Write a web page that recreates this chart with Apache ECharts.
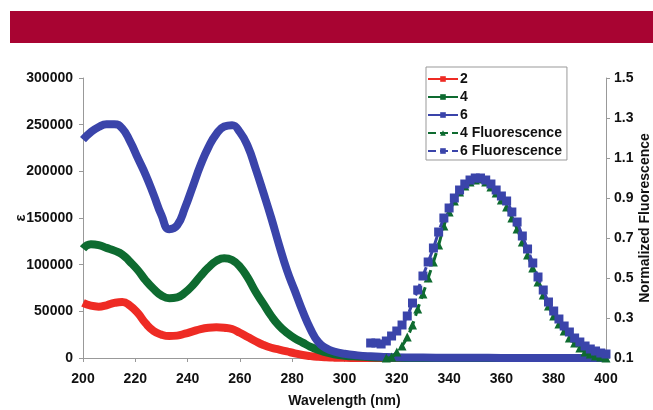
<!DOCTYPE html>
<html>
<head>
<meta charset="utf-8">
<script src="https://cdn.jsdelivr.net/npm/echarts@6/dist/echarts.min.js"></script>
<style>html,body{margin:0;padding:0;background:#fff;}#c{width:653px;height:410px;}</style>
</head>
<body>
<div id="c"></div>
<script>
// Absorbance (epsilon) data
const absWl = [200,203,206,209,212,215,218,221,224,227,230,233,236,239,242,245,248,251,254,257,260,263,266,269,272,275,278,281,284,287,290,293,296,300,305,310,315,320,330,340,350,360,380,400];
const eps2 = [59000,56000,55000,56500,59000,60000,56000,48000,37000,29000,25000,23500,24000,26000,28500,31000,32500,33000,32500,31000,27000,22500,18000,14000,11000,9000,7000,5000,3200,2000,1200,700,400,200,100,50,0,0,0,0,0,0,null,null];
const eps4 = [117000,122000,121000,118000,115000,111000,103000,94000,83000,74000,67000,64000,65000,70000,78000,88000,97000,104000,107000,105000,98000,86000,71000,58000,45000,34500,27000,21000,16500,12000,8500,6000,4000,2500,1500,800,400,200,0,0,0,0,0,0];
const eps6 = [234000,242000,247500,250500,250500,246000,232000,214000,196000,175000,153000,138000,142000,161000,184000,207000,226000,240000,248000,249500,242000,227000,203000,177000,150000,121000,94000,72000,50000,31000,17000,10500,7000,4500,2800,1800,1200,800,500,300,200,100,50,0];

// Normalized fluorescence data
const fl4Wl = [316,318,320,322,324,326,328,330,332,334,336,338,340,342,344,346,348,350,352,354,356,358,360,362,364,366,368,370,372,374,376,378,380,382,384,386,388,390,392,394,396,398,400];
const fl4 = [0.10,0.105,0.13,0.16,0.205,0.265,0.345,0.42,0.50,0.58,0.665,0.76,0.83,0.885,0.93,0.96,0.98,0.99,0.995,0.98,0.955,0.925,0.89,0.855,0.80,0.745,0.68,0.615,0.55,0.48,0.415,0.36,0.31,0.27,0.235,0.20,0.175,0.15,0.13,0.12,0.11,0.105,0.10];
const fl6Wl = [310,312,314,316,318,320,322,324,326,328,330,332,334,336,338,340,342,344,346,348,350,352,354,356,358,360,362,364,366,368,370,372,374,376,378,380,382,384,386,388,390,392,394,396,398,400];
const fl6 = [0.175,0.175,0.17,0.185,0.21,0.235,0.265,0.31,0.375,0.44,0.51,0.58,0.65,0.73,0.80,0.85,0.90,0.94,0.97,0.99,1.0,1.0,0.99,0.97,0.94,0.91,0.885,0.83,0.78,0.71,0.645,0.575,0.505,0.44,0.38,0.335,0.295,0.26,0.23,0.20,0.18,0.16,0.145,0.135,0.125,0.12];

const rightTicks = [0.1,0.3,0.5,0.7,0.9,1.1,1.3,1.5];

const pairs = (xs, ys) => xs.map((x, i) => [x, ys[i]]);
const FONT = '"Liberation Sans", Arial, sans-serif';
const RED = '#EE2B24', GREEN = '#0E6B30', BLUE = '#3A44AA';
const TXT = {fontFamily: FONT, fontWeight: 'bold', fontSize: 14, color: '#111'};

const chart = echarts.init(document.getElementById('c'), null, {renderer: 'canvas'});
const absSeries = (name, data, color) => ({
  name, type: 'line', data: pairs(absWl, data), smooth: true,
  symbol: 'rect', symbolSize: 6, showSymbol: false,
  lineStyle: {width: 8, color}, itemStyle: {color}, z: 2
});
chart.setOption({
  animation: false,
  textStyle: {fontFamily: FONT},
  graphic: [{type: 'rect', shape: {x: 10, y: 11, width: 643, height: 32}, style: {fill: '#A80432'}, silent: true}],
  grid: {left: 83, right: 47, top: 78, bottom: 52, containLabel: false, outerBoundsMode: 'none'},
  legend: {
    orient: 'vertical', left: 426, top: 67,
    borderColor: '#999', borderWidth: 1, padding: [5, 5, 2, 1],
    itemWidth: 30, itemHeight: 7, itemGap: 4,
    lineStyle: {width: 2},
    textStyle: Object.assign({}, TXT, {padding: [0, 0, 0, -3], lineHeight: 14}),
    data: ['2', '4', '6', '4 Fluorescence', '6 Fluorescence']
  },
  xAxis: {
    type: 'value', min: 200, max: 400, interval: 20,
    name: 'Wavelength (nm)', nameLocation: 'middle', nameGap: 36, nameMoveOverlap: false,
    nameTextStyle: TXT,
    axisLine: {lineStyle: {color: '#999', width: 1}},
    axisTick: {show: true, length: 4, lineStyle: {color: '#999'}},
    axisLabel: Object.assign({}, TXT, {margin: 14}),
    splitLine: {show: false}
  },
  yAxis: [{
    type: 'value', min: 0, max: 300000, interval: 50000,
    name: 'ε', nameLocation: 'middle', nameGap: 55, nameRotate: 90, nameMoveOverlap: false,
    nameTextStyle: Object.assign({}, TXT, {fontSize: 15}),
    axisLine: {show: true, lineStyle: {color: '#999', width: 1}},
    axisTick: {show: true, length: 4, lineStyle: {color: '#999'}},
    axisLabel: Object.assign({}, TXT, {margin: 10, formatter: v => String(v)}),
    splitLine: {show: false}
  }, {
    type: 'value', min: 0.1, max: 1.5, position: 'right',
    name: 'Normalized Fluorescence', nameLocation: 'middle', nameGap: 32, nameRotate: 90, nameMoveOverlap: false,
    nameTextStyle: TXT,
    axisLine: {show: true, lineStyle: {color: '#999', width: 1}},
    axisTick: {show: true, length: 4, inside: false, customValues: rightTicks, lineStyle: {color: '#999'}},
    axisLabel: Object.assign({}, TXT, {margin: 8, customValues: rightTicks, formatter: v => v.toFixed(1)}),
    splitLine: {show: false}
  }],
  series: [
    absSeries('2', eps2, RED),
    absSeries('4', eps4, GREEN),
    absSeries('6', eps6, BLUE),
    {
      name: '4 Fluorescence', type: 'line', yAxisIndex: 1, data: pairs(fl4Wl, fl4), smooth: true,
      symbol: 'triangle', symbolSize: 9, showSymbol: true, showAllSymbol: true,
      lineStyle: {width: 3, type: 'dashed', color: GREEN}, itemStyle: {color: GREEN}, z: 3
    },
    {
      name: '6 Fluorescence', type: 'line', yAxisIndex: 1, data: pairs(fl6Wl, fl6), smooth: true,
      symbol: 'rect', symbolSize: 9, showSymbol: true, showAllSymbol: true,
      lineStyle: {width: 3, type: 'dashed', color: BLUE}, itemStyle: {color: BLUE}, z: 4
    }
  ]
});
</script>
</body>
</html>
